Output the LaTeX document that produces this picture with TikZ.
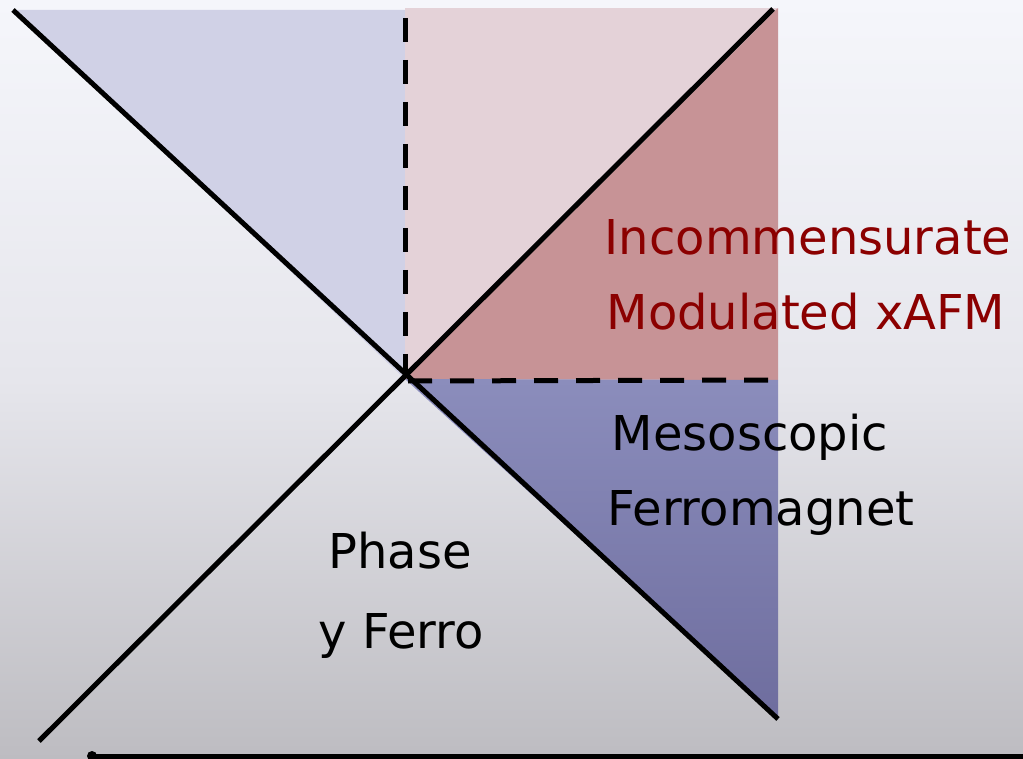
\documentclass[tikz,border=0pt]{standalone}
\usepackage{fontspec}
\setmainfont{DejaVu Sans}
\definecolor{bgtop}{HTML}{F5F6FB}
\definecolor{bgmid}{HTML}{E6E6EC}
\definecolor{bgbot}{HTML}{BDBCC1}
\definecolor{lavender}{HTML}{D0D1E6}
\definecolor{palepink}{HTML}{E4D2D8}
\definecolor{rosepink}{HTML}{C79396}
\definecolor{bluetop}{HTML}{8B8DBC}
\definecolor{bluebot}{HTML}{6E6D9E}
\definecolor{labelred}{HTML}{8B0000}
\tikzset{
  phaseline/.style={line width=5pt, black},
  boundary/.style={line width=5pt, black, dash pattern=on 24pt off 18pt},
  lbl/.style={anchor=base, inner sep=0pt, font=\fontsize{48}{58}\selectfont},
}
\begin{document}
\begin{tikzpicture}[x=1pt,y=-1pt]
\useasboundingbox (0,0) rectangle (1023,759);
\clip (0,0) rectangle (1023,759);
% background
\shade[top color=bgtop, bottom color=bgbot, middle color=bgmid] (0,0) rectangle (1023,759);
% key points
\coordinate (C) at (405,379);
\coordinate (TL) at (13,10);
\coordinate (TM) at (405,10);
\coordinate (TR) at (778,8);
\coordinate (TRline) at (773,9);
\coordinate (MR) at (778,380);
\coordinate (BR) at (778,719);
\coordinate (BL) at (39,741);
% regions
\fill[lavender] (TL) -- (TM) -- (C) -- cycle;
\fill[palepink] (405,8) rectangle (MR);
\fill[rosepink] (C) -- (TR) -- (MR) -- cycle;
\shade[top color=bluetop, bottom color=bluebot] (C) -- (MR) -- (BR) -- cycle;
% phase lines
\draw[phaseline] (TL) -- (BR);
\draw[phaseline] (BL) -- (TRline);
\draw[boundary] (405,18) -- (C);
\draw[boundary] (408,381) -- (MR);
% axis
\coordinate (AX0) at (92,756);
\coordinate (AX1) at (1030,756);
\draw[line width=5pt] (AX0) -- (AX1);
\fill (AX0) circle (5pt);
% labels
\node[lbl, text=labelred] (inc) at (808,255) {Incommensurate};
\node[lbl, text=labelred] (mod) at (806,330) {Modulated xAFM};
\node[lbl] (meso) at (750,450) {Mesoscopic};
\node[lbl] (ferro) at (761,525) {Ferromagnet};
\node[lbl] (phase) at (400,568) {Phase};
\node[lbl] (yferro) at (401,648) {y Ferro};
\end{tikzpicture}
\end{document}
